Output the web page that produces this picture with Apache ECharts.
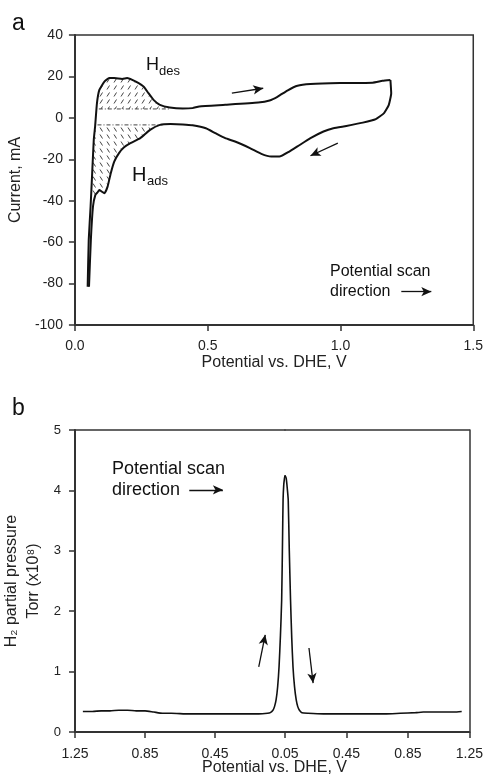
<!DOCTYPE html>
<html><head><meta charset="utf-8">
<script src="https://cdn.jsdelivr.net/npm/echarts@6/dist/echarts.min.js"></script>
<style>html,body{margin:0;padding:0;background:#fff}#c{width:486px;height:782px}</style>
</head><body><div id="c"></div>
<script>
// ---------- Panel a: cyclic voltammogram ----------
const anodicV = [0.048, 0.052, 0.059, 0.065, 0.071, 0.076, 0.083, 0.092, 0.111, 0.129, 0.148, 0.178, 0.197, 0.216, 0.240, 0.259, 0.277, 0.296, 0.320, 0.357, 0.406, 0.443, 0.468, 0.566, 0.690, 0.733, 0.764, 0.800, 0.838, 0.887, 0.998, 1.121, 1.158, 1.188];
const anodicI = [-81.5, -58.9, -42.8, -26.7, -10.6, -4.2, 7.1, 13.5, 17.5, 19.2, 19.2, 18.8, 19.2, 18.3, 16.8, 15.1, 11.9, 8.7, 6.3, 5.0, 4.5, 4.7, 5.5, 6.3, 7.4, 8.4, 10.3, 13.2, 15.5, 16.3, 16.8, 17.0, 17.9, 18.3];
const cathodicV = [1.188, 1.191, 1.182, 1.164, 1.133, 1.084, 1.022, 0.973, 0.936, 0.887, 0.838, 0.807, 0.770, 0.739, 0.702, 0.659, 0.603, 0.566, 0.529, 0.493, 0.443, 0.406, 0.360, 0.320, 0.283, 0.246, 0.209, 0.185, 0.166, 0.148, 0.135, 0.123, 0.111, 0.100, 0.092, 0.085, 0.077, 0.068, 0.060, 0.053];
const cathodicI = [18.3, 11.9, 6.3, 2.3, -0.6, -2.3, -3.9, -5.0, -6.6, -9.8, -13.8, -16.3, -18.7, -18.7, -17.4, -14.6, -11.4, -9.8, -7.4, -5.0, -3.6, -3.2, -3.0, -3.4, -5.8, -9.8, -12.2, -14.2, -17.0, -21.1, -26.7, -33.2, -36.4, -35.5, -34.8, -36.0, -37.2, -42.8, -58.9, -81.5];
// hatched charge regions (boundaries) and their dashed baselines
const desBase = 4.3, adsBase = -3.4;
const desHatchV = [0.078, 0.083, 0.092, 0.111, 0.129, 0.148, 0.178, 0.197, 0.216, 0.240, 0.259, 0.277, 0.296, 0.320, 0.357];
const desHatchI = [4.3, 7.1, 13.5, 17.5, 19.2, 19.2, 18.8, 19.2, 18.3, 16.8, 15.1, 11.9, 8.7, 6.3, 5.0];
const adsHatchV = [0.075, 0.071, 0.066, 0.063, 0.061, 0.068, 0.077, 0.085, 0.092, 0.100, 0.111, 0.123, 0.135, 0.148, 0.166, 0.185, 0.209, 0.246, 0.283, 0.320];
const adsHatchI = [-3.4, -10.6, -24.0, -31.0, -37.0, -37.2, -37.2, -36.0, -34.8, -35.5, -36.4, -33.2, -26.7, -21.1, -17.0, -14.2, -12.2, -9.8, -5.8, -3.4];
const desDashV = [0.09, 0.36];
const adsDashV = [0.085, 0.33];
const aXTicks = [0, 1.5, 0.5];        // min, max, interval
const aYTicks = [-100, 40, 20];

// ---------- Panel b: H2 partial pressure ----------
const downV = [1.205, 1.15, 1.10, 1.05, 1.00, 0.95, 0.90, 0.85, 0.80, 0.75, 0.70, 0.60, 0.50, 0.40, 0.30, 0.20, 0.15, 0.134, 0.119, 0.110, 0.101, 0.092, 0.084, 0.076, 0.069, 0.064, 0.061, 0.057, 0.053, 0.05];
const downP = [0.34, 0.34, 0.35, 0.35, 0.36, 0.36, 0.35, 0.35, 0.33, 0.31, 0.31, 0.30, 0.30, 0.30, 0.30, 0.30, 0.31, 0.32, 0.36, 0.42, 0.53, 0.75, 1.08, 1.60, 2.19, 3.2, 3.84, 4.1, 4.2, 4.25];
const upV = [0.05, 0.058, 0.066, 0.071, 0.078, 0.086, 0.094, 0.102, 0.112, 0.123, 0.133, 0.144, 0.16, 0.20, 0.30, 0.40, 0.50, 0.60, 0.70, 0.80, 0.90, 0.95, 1.00, 1.05, 1.10, 1.15, 1.20];
const upP = [4.25, 4.2, 4.0, 3.84, 3.0, 2.19, 1.55, 1.08, 0.75, 0.53, 0.42, 0.36, 0.32, 0.31, 0.30, 0.30, 0.30, 0.30, 0.30, 0.31, 0.32, 0.33, 0.33, 0.33, 0.33, 0.33, 0.34];
const bXTicks = [0.05, 1.25, 0.4];
const bYTicks = [0, 5, 1];

const FONT = '"Liberation Sans", Arial, Helvetica, sans-serif';
const INK = '#111';
const AX = '#333';
const zip = (a, b) => a.map((v, i) => [v, b[i]]);

function hatch(dir) {
  const c = document.createElement('canvas');
  c.width = 7; c.height = 7;
  const g = c.getContext('2d');
  g.strokeStyle = '#444'; g.lineWidth = 1;
  g.beginPath();
  if (dir > 0) { g.moveTo(2, 5.5); g.lineTo(4.5, 1.5); }
  else { g.moveTo(2, 1.5); g.lineTo(4.5, 5.5); }
  g.stroke();
  return c;
}

const arrowLine = (pairs) => ({
  silent: true, symbol: ['none', 'arrow'], symbolSize: [7, 10],
  label: { show: false }, lineStyle: { color: INK, width: 1.3, type: 'solid' },
  itemStyle: { color: INK },
  emphasis: { disabled: true },
  data: pairs.map(p => [{ coord: p[0] }, { coord: p[1] }])
});

const baseAxis = {
  type: 'value', splitLine: { show: false },
  axisLine: { show: true, onZero: false, lineStyle: { color: AX, width: 2 } },
  axisTick: { show: true, length: 6, lineStyle: { color: AX, width: 1.5 } },
  axisLabel: { color: '#222', fontSize: 14, fontFamily: FONT },
  nameTextStyle: { color: '#222', fontSize: 16, fontFamily: FONT }
};
const frameAxis = (extra) => Object.assign({
  type: 'value', splitLine: { show: false },
  axisLine: { show: true, onZero: false, lineStyle: { color: AX, width: 1.5 } },
  axisTick: { show: false }, axisLabel: { show: false }
}, extra);

const chart = echarts.init(document.getElementById('c'), null, { renderer: 'canvas' });
chart.setOption({
  animation: false,
  backgroundColor: '#fff',
  grid: [
    { left: 70, top: 35, width: 406, height: 290, show: true, borderColor: AX, borderWidth: 1.5 },
    { left: 72, top: 430, width: 213, height: 302 },
    { left: 285, top: 430, width: 192, height: 302 }
  ],
  xAxis: [
    Object.assign({}, baseAxis, {
      gridIndex: 0, min: aXTicks[0], max: aXTicks[1], interval: aXTicks[2],
      axisLabel: Object.assign({}, baseAxis.axisLabel, { margin: 14, formatter: v => v.toFixed(1) }),
      name: 'Potential vs. DHE, V', nameLocation: 'middle', nameGap: 30
    }),
    Object.assign({}, baseAxis, {
      gridIndex: 1, min: bXTicks[0], max: bXTicks[1], interval: bXTicks[2], inverse: true,
      axisLabel: Object.assign({}, baseAxis.axisLabel, { margin: 15, formatter: v => v.toFixed(2) })
    }),
    Object.assign({}, baseAxis, {
      gridIndex: 2, min: bXTicks[0], max: bXTicks[1], interval: bXTicks[2],
      axisLabel: Object.assign({}, baseAxis.axisLabel, { margin: 15, showMinLabel: false, formatter: v => v.toFixed(2) })
    }),
    frameAxis({ gridIndex: 1, position: 'top', min: bXTicks[0], max: bXTicks[1], inverse: true }),
    frameAxis({ gridIndex: 2, position: 'top', min: bXTicks[0], max: bXTicks[1] })
  ],
  yAxis: [
    Object.assign({}, baseAxis, {
      gridIndex: 0, min: aYTicks[0], max: aYTicks[1], interval: aYTicks[2],
      axisLabel: Object.assign({}, baseAxis.axisLabel, { margin: 12 }),
      name: 'Current, mA', nameLocation: 'middle', nameGap: 43, nameRotate: 90
    }),
    Object.assign({}, baseAxis, {
      gridIndex: 1, min: bYTicks[0], max: bYTicks[1], interval: bYTicks[2],
      axisLabel: Object.assign({}, baseAxis.axisLabel, { margin: 14, fontSize: 13 }),
      name: 'H\u2082 partial pressure\nTorr (x10\u2078)', nameLocation: 'middle', nameGap: 30, nameRotate: 90,
      nameTextStyle: Object.assign({}, baseAxis.nameTextStyle, { lineHeight: 22 })
    }),
    frameAxis({ gridIndex: 2, position: 'right', min: bYTicks[0], max: bYTicks[1] })
  ],
  series: [
    { type: 'line', name: 'Hdes', xAxisIndex: 0, yAxisIndex: 0, data: zip(desHatchV, desHatchI),
      showSymbol: false, silent: true, z: 1, lineStyle: { width: 0 },
      areaStyle: { origin: desBase, opacity: 1, color: { image: hatch(1), repeat: 'repeat' } } },
    { type: 'line', name: 'Hads', xAxisIndex: 0, yAxisIndex: 0, data: zip(adsHatchV, adsHatchI),
      showSymbol: false, silent: true, z: 1, lineStyle: { width: 0 },
      areaStyle: { origin: adsBase, opacity: 1, color: { image: hatch(-1), repeat: 'repeat' } } },
    { type: 'line', xAxisIndex: 0, yAxisIndex: 0, data: desDashV.map(v => [v, desBase]),
      showSymbol: false, silent: true, z: 2, lineStyle: { color: '#444', width: 1, type: [4, 2, 1, 2] } },
    { type: 'line', xAxisIndex: 0, yAxisIndex: 0, data: adsDashV.map(v => [v, adsBase]),
      showSymbol: false, silent: true, z: 2, lineStyle: { color: '#444', width: 1, type: [4, 2, 1, 2] } },
    { type: 'line', name: 'anodic', xAxisIndex: 0, yAxisIndex: 0, data: zip(anodicV, anodicI),
      showSymbol: false, smooth: 0.15, z: 3, lineStyle: { color: INK, width: 2 },
      markLine: arrowLine([[[0.591, 11.9], [0.709, 14.3]], [[1.229, -83.9], [1.342, -83.9]]]) },
    { type: 'line', name: 'cathodic', xAxisIndex: 0, yAxisIndex: 0, data: zip(cathodicV, cathodicI),
      showSymbol: false, smooth: 0.15, z: 3, lineStyle: { color: INK, width: 2 },
      markLine: arrowLine([[[0.990, -12.2], [0.887, -18.3]]]) },
    { type: 'line', name: 'down', xAxisIndex: 1, yAxisIndex: 1, data: zip(downV, downP),
      showSymbol: false, smooth: 0.2, lineStyle: { color: INK, width: 1.6 },
      markLine: arrowLine([[[0.200, 1.08], [0.163, 1.61]], [[0.597, 4.01], [0.405, 4.01]]]) },
    { type: 'line', name: 'up', xAxisIndex: 2, yAxisIndex: 2, data: zip(upV, upP),
      showSymbol: false, smooth: 0.2, lineStyle: { color: INK, width: 1.6 },
      markLine: arrowLine([[[0.206, 1.39], [0.233, 0.81]]]) }
  ],
  graphic: [
    { type: 'text', x: 12, y: 24, style: { text: 'a', font: '23px ' + FONT, fill: INK, verticalAlign: 'middle' } },
    { type: 'text', x: 12, y: 409, style: { text: 'b', font: '23px ' + FONT, fill: INK, verticalAlign: 'middle' } },
    { type: 'text', x: 146, y: 65, style: { text: 'H', font: '18px ' + FONT, fill: INK, verticalAlign: 'middle' } },
    { type: 'text', x: 159, y: 71, style: { text: 'des', font: '13px ' + FONT, fill: INK, verticalAlign: 'middle' } },
    { type: 'text', x: 132, y: 175, style: { text: 'H', font: '20px ' + FONT, fill: INK, verticalAlign: 'middle' } },
    { type: 'text', x: 147, y: 181, style: { text: 'ads', font: '13px ' + FONT, fill: INK, verticalAlign: 'middle' } },
    { type: 'text', x: 330, y: 272, style: { text: 'Potential scan', font: '16px ' + FONT, fill: INK, verticalAlign: 'middle' } },
    { type: 'text', x: 330, y: 292, style: { text: 'direction', font: '16px ' + FONT, fill: INK, verticalAlign: 'middle' } },
    { type: 'text', x: 112, y: 469, style: { text: 'Potential scan', font: '18px ' + FONT, fill: INK, verticalAlign: 'middle' } },
    { type: 'text', x: 112, y: 490, style: { text: 'direction', font: '18px ' + FONT, fill: INK, verticalAlign: 'middle' } },
    { type: 'text', x: 274.5, y: 768, style: { text: 'Potential vs. DHE, V', font: '16px ' + FONT, fill: '#222', align: 'center', verticalAlign: 'middle' } }
  ]
});
</script>
</body></html>
